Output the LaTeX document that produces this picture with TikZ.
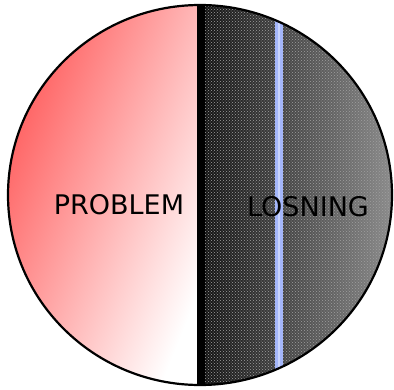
\documentclass[tikz,border=0pt]{standalone}
\usepackage{fontspec}
\setmainfont{DejaVu Sans}
\usetikzlibrary{patterns}
\definecolor{rosa}{HTML}{FF5555}
\definecolor{dark}{HTML}{111111}
\definecolor{greyish}{HTML}{8C8C8C}
\definecolor{bluish}{HTML}{A4B6FA}

\begin{document}
\begin{tikzpicture}[x=1pt,y=1pt,
 lbl/.style={font=\fontsize{27}{31}\selectfont,text=black,inner sep=0pt},
 rim/.style={draw=black,line width=2.2pt}]
 \useasboundingbox (0,0) rectangle (394,-389);
 \begin{scope}
  \clip (200,-195) ellipse [x radius=192, y radius=190];
  % problem side
  \shade[left color=rosa,middle color=rosa!62,right color=white,shading angle=68] (0,0) rectangle (201,-389);
  % solution side
  \shade[left color=dark,right color=greyish] (201,0) rectangle (394,-389);
  \fill[pattern=crosshatch dots,pattern color=gray!75] (201,0) rectangle (394,-389);
  \fill[black] (197,0) rectangle (205,-389);
  \fill[bluish] (275,0) rectangle (283,-389);
  \fill[bluish!60!white] (278,0) rectangle (280,-389);
 \end{scope}
 \draw[rim] (200,-195) ellipse [x radius=192, y radius=190];
 \node[lbl] (problem) at (119,-205) {PROBLEM};
 \node[lbl] (losning) at (308,-207) {LOSNING};
\end{tikzpicture}
\end{document}
